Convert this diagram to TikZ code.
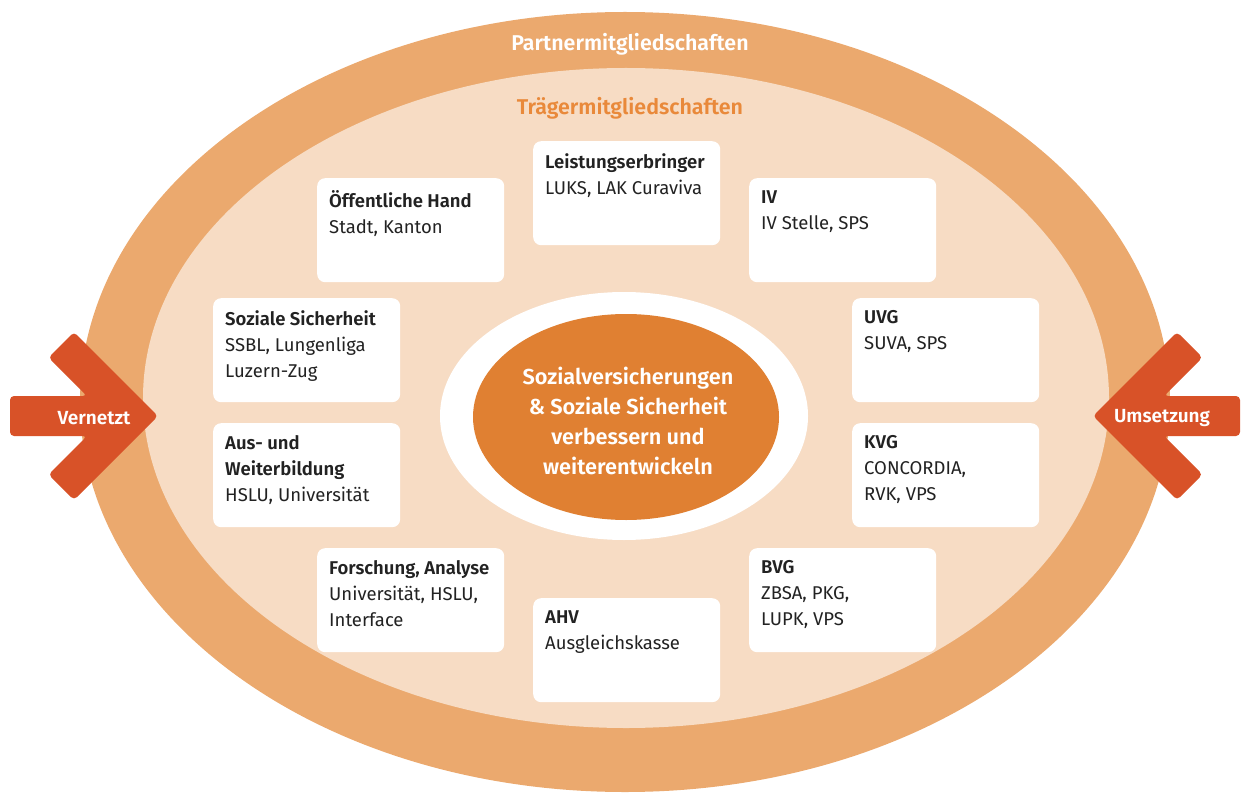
\documentclass[tikz,border=0pt]{standalone}
\usepackage{fontspec}
\setmainfont{Fira Sans}[BoldFont={Fira Sans SemiBold}]
\usetikzlibrary{shapes.geometric}
\definecolor{partner}{RGB}{235,169,110}
\definecolor{traeger}{RGB}{247,220,196}
\definecolor{kern}{RGB}{224,128,50}
\definecolor{pfeil}{RGB}{216,82,40}
\definecolor{titel}{RGB}{233,137,58}
\definecolor{schrift}{RGB}{34,34,34}

\begin{document}
\begin{tikzpicture}[x = 1pt, y = -1pt,
  feld/.style = {fill = white, rounded corners = 8pt, minimum width = 187pt, minimum height = 104pt, inner sep = 0pt, anchor = north west},
  feldtext/.style = {anchor = north west, align = left, inner sep = 0pt, text = schrift, font = \fontsize{18.5}{26}\selectfont,
    execute at begin node = \rule{0pt}{17pt}},
  pfeiltext/.style = {text = white, font = \bfseries\fontsize{19}{22}\selectfont}]
\useasboundingbox (0, 0) rectangle (1241, 794);
% rings
\fill[partner] (625, 402) ellipse [x radius = 545, y radius = 390];
\fill[traeger] (626, 398) ellipse [x radius = 483, y radius = 330];
\fill[white] (624, 416) ellipse [x radius = 184, y radius = 124];
\node[ellipse, fill = kern, minimum width = 306pt, minimum height = 206pt, inner sep = 0pt] (kern) at (626, 417) {};
\node[align = center, text = white, font = \bfseries\fontsize{21.7}{30}\selectfont] (ziel) at (628, 421)
  {Sozialversicherungen\\ \& Soziale Sicherheit\\ verbessern und\\ weiterentwickeln};
\node[text = white, font = \bfseries\fontsize{21.4}{26}\selectfont] (partner) at (630, 44) {Partnermitgliedschaften};
\node[text = titel, font = \bfseries\fontsize{21.4}{26}\selectfont] (traeger) at (630, 108) {Trägermitgliedschaften};
% arrows
\fill[pfeil, rounded corners = 4pt] (158, 416) -- (74, 332) -- (48.5, 357.5) -- (87, 396) -- (10, 396)
  -- (10, 436) -- (87, 436) -- (48.5, 474.5) -- (74, 500) -- cycle;
\fill[pfeil, rounded corners = 4pt] (1093, 416) -- (1177, 332) -- (1202.5, 357.5) -- (1164, 396) -- (1240, 396)
  -- (1240, 436) -- (1164, 436) -- (1202.5, 474.5) -- (1177, 500) -- cycle;
\node[pfeiltext] (vernetzt) at (94, 418) {Vernetzt};
\node[pfeiltext] (umsetzung) at (1162, 418) {Umsetzung};
% fields
\node[feld] (lerb) at (533, 141) {};
\node[feld] (oeff) at (317, 178) {};
\node[feld] (iv) at (749, 178) {};
\node[feld] (sozs) at (213, 298) {};
\node[feld] (uvg) at (852, 298) {};
\node[feld] (ausw) at (213, 423) {};
\node[feld] (kvg) at (852, 423) {};
\node[feld] (fors) at (317, 548) {};
\node[feld] (bvg) at (749, 548) {};
\node[feld] (ahv) at (533, 598) {};
\node[feldtext] (lerbtext) at ([shift = {(12, 12)}]lerb.north west) {\textbf{Leistungserbringer}\\ LUKS, LAK Curaviva};
\node[feldtext] (oefftext) at ([shift = {(12, 12)}]oeff.north west) {\textbf{Öffentliche Hand}\\ Stadt, Kanton};
\node[feldtext] (ivtext) at ([shift = {(12, 12)}]iv.north west) {\textbf{IV}\\ IV Stelle, SPS};
\node[feldtext] (sozstext) at ([shift = {(12, 12)}]sozs.north west) {\textbf{Soziale Sicherheit}\\ SSBL, Lungenliga\\ Luzern-Zug};
\node[feldtext] (uvgtext) at ([shift = {(12, 12)}]uvg.north west) {\textbf{UVG}\\ SUVA, SPS};
\node[feldtext] (auswtext) at ([shift = {(12, 12)}]ausw.north west) {\textbf{Aus- und}\\ \textbf{Weiterbildung}\\ HSLU, Universität};
\node[feldtext] (kvgtext) at ([shift = {(12, 12)}]kvg.north west) {\textbf{KVG}\\ CONCORDIA,\\ RVK, VPS};
\node[feldtext] (forstext) at ([shift = {(12, 12)}]fors.north west) {\textbf{Forschung, Analyse}\\ Universität, HSLU,\\ Interface};
\node[feldtext] (bvgtext) at ([shift = {(12, 12)}]bvg.north west) {\textbf{BVG}\\ ZBSA, PKG,\\ LUPK, VPS};
\node[feldtext] (ahvtext) at ([shift = {(12, 12)}]ahv.north west) {\textbf{AHV}\\ Ausgleichskasse};
\end{tikzpicture}
\end{document}
